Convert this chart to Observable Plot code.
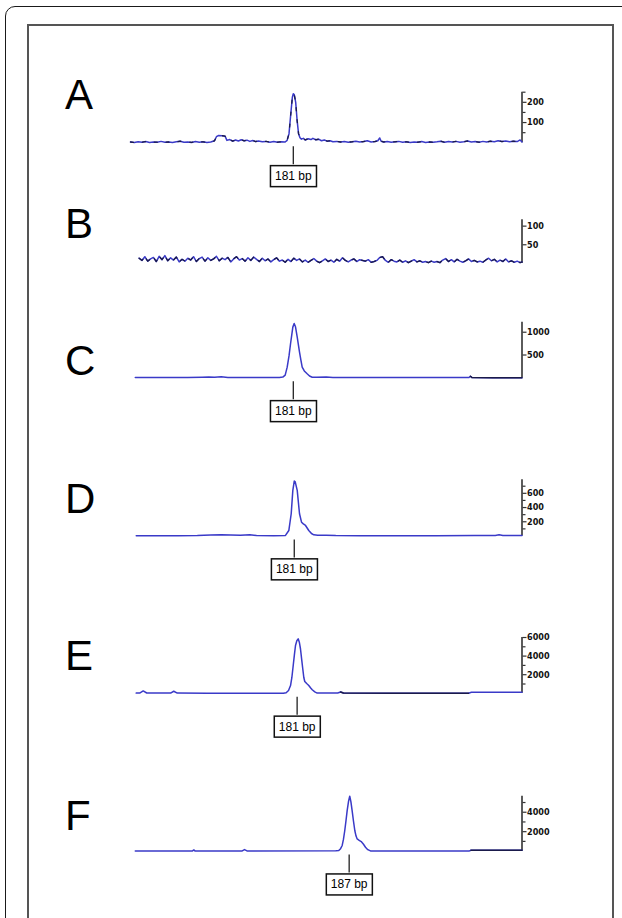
<!DOCTYPE html>
<html><head><meta charset="utf-8">
<script src="https://cdn.jsdelivr.net/npm/d3@7"></script>
<script src="https://cdn.jsdelivr.net/npm/@observablehq/plot@0.6"></script>
<style>
html,body{margin:0;padding:0;background:#fff;}
body{width:622px;height:918px;overflow:hidden;position:relative;}
#outer{position:absolute;left:5px;top:6px;width:680px;height:980px;border:1.6px solid #1a1a1a;border-radius:10px;box-sizing:border-box;}
#inner{position:absolute;left:26.5px;top:23.5px;width:587px;height:960px;border:2px solid #555;box-sizing:border-box;}
.letter{position:absolute;left:65px;font:42px "Liberation Sans",Arial,sans-serif;line-height:42px;color:#000;}
.panel{position:absolute;left:0;}
</style></head><body>
<div id="outer"></div><div id="inner"></div>
<div id="chart"></div>
<script>
// ---- data (fragment size in bp, signal in RFU) ----
const panelNames = ["A", "B", "C", "D", "E", "F"];
const xDomain = [164, 205];

const traceA = [[164.0,4],[164.4,2],[164.8,5],[165.2,3],[165.6,6],[166.0,2],[166.4,4],[166.8,3],[167.2,7],[167.6,3],[168.0,4],[168.4,2],[168.8,5],[169.2,8],[169.6,3],[170.0,4],[170.4,2],[170.8,6],[171.2,3],[171.6,5],[172.0,2],[172.4,4],[172.8,10],[173.0,30],[173.2,36],[173.6,35],[173.9,33],[174.1,12],[174.4,16],[174.7,8],[175.0,14],[175.3,9],[175.6,15],[175.9,10],[176.2,13],[176.5,7],[176.8,11],[177.1,6],[177.4,9],[177.8,5],[178.2,7],[178.6,3],[179.0,6],[179.4,3],[179.8,5],[180.2,4],[180.4,12],[180.6,45],[180.8,150],[180.95,225],[181.05,242],[181.15,238],[181.3,200],[181.45,110],[181.6,45],[181.75,25],[181.9,18],[182.1,22],[182.3,14],[182.6,20],[182.9,16],[183.1,22],[183.4,15],[183.7,18],[184.0,10],[184.3,14],[184.6,8],[184.9,10],[185.2,5],[185.6,7],[186.0,4],[186.4,6],[186.8,3],[187.2,5],[187.6,8],[188.0,4],[188.4,6],[188.8,10],[189.2,4],[189.6,6],[189.9,10],[190.1,24],[190.25,8],[190.5,4],[190.9,6],[191.3,3],[191.7,5],[192.1,7],[192.5,3],[192.9,5],[193.3,2],[193.7,4],[194.1,3],[194.5,6],[194.9,2],[195.3,4],[195.7,3],[196.1,5],[196.5,8],[196.9,3],[197.3,6],[197.7,4],[198.1,7],[198.5,3],[198.9,5],[199.3,9],[199.7,4],[200.1,6],[200.5,3],[200.9,7],[201.3,4],[201.7,8],[202.1,5],[202.5,10],[202.9,6],[203.3,9],[203.7,5],[204.1,8],[204.5,6],[204.8,14],[205.0,4]];

const traceB = [[164.9,14],[165.2,8],[165.5,18],[165.8,6],[166.1,12],[166.4,16],[166.7,5],[167.0,19],[167.3,10],[167.6,21],[167.9,7],[168.2,15],[168.5,9],[168.8,17],[169.1,4],[169.4,11],[169.7,6],[170.0,14],[170.3,9],[170.6,18],[170.9,5],[171.2,13],[171.5,17],[171.8,6],[172.1,15],[172.4,8],[172.7,12],[173.0,19],[173.3,7],[173.6,14],[173.9,10],[174.2,16],[174.5,4],[174.8,12],[175.1,18],[175.4,9],[175.7,13],[176.0,6],[176.3,15],[176.6,8],[176.9,17],[177.2,11],[177.5,5],[177.8,14],[178.1,7],[178.4,12],[178.7,4],[179.0,10],[179.3,15],[179.6,6],[179.9,9],[180.2,3],[180.5,11],[180.8,5],[181.1,14],[181.4,8],[181.7,12],[182.0,4],[182.3,9],[182.6,3],[182.9,8],[183.2,13],[183.5,6],[183.8,2],[184.1,7],[184.4,12],[184.7,5],[185.0,9],[185.3,3],[185.6,11],[185.9,6],[186.2,15],[186.5,8],[186.8,4],[187.1,9],[187.4,12],[187.7,5],[188.0,10],[188.3,8],[188.6,6],[188.9,10],[189.2,3],[189.5,5],[189.8,8],[190.1,16],[190.4,18],[190.7,8],[191.0,3],[191.3,10],[191.6,6],[191.9,4],[192.2,9],[192.5,3],[192.8,7],[193.1,2],[193.4,6],[193.7,10],[194.0,4],[194.3,7],[194.6,3],[194.9,5],[195.2,2],[195.5,6],[195.8,3],[196.1,5],[196.4,2],[196.7,9],[197.0,13],[197.3,5],[197.6,10],[197.9,4],[198.2,11],[198.5,6],[198.8,3],[199.1,7],[199.4,12],[199.7,5],[200.0,8],[200.3,4],[200.6,6],[200.9,3],[201.2,9],[201.5,14],[201.8,7],[202.1,11],[202.4,4],[202.7,9],[203.0,5],[203.3,12],[203.6,4],[203.9,7],[204.2,3],[204.5,6],[204.8,2],[205.0,4]];

const traceC = [[164.5,4],[166,6],[168,5],[170,7],[171.5,14],[172.2,20],[172.8,12],[173.5,22],[174.2,9],[175.5,5],[178,4],[179.6,6],[179.95,15],[180.2,60],[180.41,233],[180.6,480],[180.76,747],[180.9,960],[181.0,1112],[181.14,1190],[181.28,1120],[181.46,892],[181.6,700],[181.7,563],[181.85,380],[181.98,233],[182.2,150],[182.5,88],[182.75,40],[183.03,13],[183.5,10],[184.5,15],[185.2,6],[187,4],[190,5],[195,4],[199.45,5],[199.6,35],[199.75,5],[202,3],[205,3]];

const traceD = [[164.6,4],[167,5],[169,4],[171,6],[172.4,14],[173.5,18],[174.5,15],[175.5,12],[176.5,16],[177.2,6],[179,5],[180.23,8],[180.58,77],[180.83,313],[181.0,641],[181.15,772],[181.25,760],[181.46,641],[181.70,313],[181.91,194],[182.1,170],[182.33,148],[182.67,77],[182.95,35],[183.2,17],[183.6,12],[184.5,10],[185.5,6],[188,5],[192,4],[196,5],[200,6],[202.2,8],[202.6,16],[203,7],[205,6]];

const traceE = [[164.6,20],[165.0,40],[165.33,250],[165.7,30],[168.2,20],[168.53,220],[168.9,20],[172,10],[176,10],[180.0,15],[180.30,60],[180.55,300],[180.76,835],[180.9,1700],[181.04,2990],[181.16,4100],[181.28,5140],[181.42,5650],[181.56,5860],[181.68,5500],[181.80,4790],[181.92,3700],[182.04,2640],[182.15,1700],[182.25,1270],[182.45,1050],[182.67,840],[182.85,600],[183.03,380],[183.3,150],[183.55,20],[185.7,30],[186.0,140],[186.3,30],[192,10],[199.4,10],[199.7,110],[205,110]];

const traceF = [[164.5,20],[170.5,20],[170.63,120],[170.75,20],[175.7,20],[175.94,160],[176.2,20],[185.5,25],[185.81,60],[186.0,250],[186.17,580],[186.3,1200],[186.44,2120],[186.57,3150],[186.69,4170],[186.83,5100],[186.96,5650],[187.08,5100],[187.21,4170],[187.35,3100],[187.49,2120],[187.62,1550],[187.74,1250],[187.95,1100],[188.16,980],[188.4,700],[188.61,400],[188.85,150],[189.13,20],[199.5,20],[199.65,90],[205,90]];

const yMax = {A: 250, B: 117, C: 1220, D: 790, E: 6000, F: 5650};
const tickLabels = {A: [100, 200], B: [50, 100], C: [500, 1000], D: [200, 400, 600], E: [2000, 4000, 6000], F: [2000, 4000]};
const minorTicks = {A: [50, 150, 250], B: [], C: [], D: [100, 300, 500, 700], E: [1000, 3000, 5000], F: [1000, 3000, 5000]};
const sizeLabels = {A: {bp: 181.05, text: "181 bp"}, C: {bp: 181.05, text: "181 bp"}, D: {bp: 181.15, text: "181 bp"}, E: {bp: 181.45, text: "181 bp"}, F: {bp: 186.9, text: "187 bp"}};
const darkRanges = {C: [199.6, 205], E: [185.9, 199.6], F: [199.6, 205]};
const traces = {A: traceA, B: traceB, C: traceC, D: traceD, E: traceE, F: traceF};

// ---- layout (page pixels) ----
const layout = {
  A: {top: 84, axisTop: 91.7, base: 142.3, bottom: 196, letterTop: 74},
  B: {top: 211, axisTop: 219.3, base: 262.9, bottom: 275, letterTop: 203},
  C: {top: 314, axisTop: 321.7, base: 377.3, bottom: 426, letterTop: 340},
  D: {top: 471, axisTop: 479.3, base: 535.5, bottom: 586, letterTop: 478},
  E: {top: 629, axisTop: 637, base: 692.8, bottom: 746, letterTop: 635},
  F: {top: 787, axisTop: 795.7, base: 850.6, bottom: 903, letterTop: 795}
};
const BLUE = "#3a3ac8", DARK = "#1a1a4a";

const chart = document.getElementById("chart");
for (const id of panelNames) {
  const L = layout[id];
  const trace = traces[id];
  const marks = [
    Plot.ruleX([xDomain[1]], {y1: 0, y2: yMax[id], stroke: "#333", strokeWidth: 1.6}),
    Plot.axisY(minorTicks[id], {anchor: "right", tickSize: 3, tickFormat: () => "", stroke: "#333", strokeWidth: 1.2, label: null}),
    Plot.axisY(tickLabels[id], {anchor: "right", tickSize: 4, tickPadding: 1, tickFormat: d => String(d), fontSize: 9, fontWeight: "bold", fontFamily: "DejaVu Sans Condensed", color: "#111", stroke: "#333", strokeWidth: 1.2, label: null}),
    Plot.line(trace, {x: d => d[0], y: d => d[1], stroke: BLUE, strokeWidth: 1.5})
  ];
  if (id === "A" || id === "B") {
    marks.push(Plot.line(trace, {x: d => d[0], y: d => d[1], stroke: DARK, strokeWidth: 1.3, strokeDasharray: id === "A" ? "3,9" : "5,6"}));
  }
  if (darkRanges[id]) {
    const [a, b] = darkRanges[id];
    marks.push(Plot.line(trace.filter(d => d[0] >= a && d[0] <= b), {x: d => d[0], y: d => d[1], stroke: DARK, strokeWidth: 1.5}));
  }
  if (sizeLabels[id]) {
    const lab = [sizeLabels[id]];
    marks.push(Plot.ruleX(lab, {x: "bp", y1: 0, y2: 0, insetTop: 4, insetBottom: -22, stroke: "#222", strokeWidth: 1.3}));
    marks.push(Plot.text(lab, {x: "bp", y: 0, text: "text", dy: 33.5, fontSize: 12, fontFamily: "Liberation Sans", fill: "#000"}));
  }
  const svg = Plot.plot({
    width: 622,
    height: L.bottom - L.top,
    marginLeft: 130,
    marginRight: 100.5,
    marginTop: L.axisTop - L.top,
    marginBottom: L.bottom - L.base,
    x: {domain: xDomain, axis: null},
    y: {domain: [0, yMax[id]]},
    style: {background: "transparent", overflow: "visible"},
    marks
  });
  const wrap = document.createElement("div");
  wrap.className = "panel";
  wrap.style.top = L.top + "px";
  wrap.appendChild(svg);
  chart.appendChild(wrap);
  // box behind the size label
  svg.querySelectorAll("text").forEach(t => {
    if (/bp$/.test(t.textContent)) {
      const bb = t.getBBox();
      const r = document.createElementNS("http://www.w3.org/2000/svg", "rect");
      r.setAttribute("x", bb.x - 4.5);
      r.setAttribute("y", bb.y - 3.5);
      r.setAttribute("width", bb.width + 9);
      r.setAttribute("height", bb.height + 7);
      r.setAttribute("fill", "#fff");
      r.setAttribute("stroke", "#111");
      r.setAttribute("stroke-width", 1.5);
      if (t.getAttribute("transform")) r.setAttribute("transform", t.getAttribute("transform"));
      t.parentNode.insertBefore(r, t);
    }
  });
  const letter = document.createElement("div");
  letter.className = "letter";
  letter.style.top = L.letterTop + "px";
  letter.textContent = id;
  document.body.appendChild(letter);
}
</script></body></html>
